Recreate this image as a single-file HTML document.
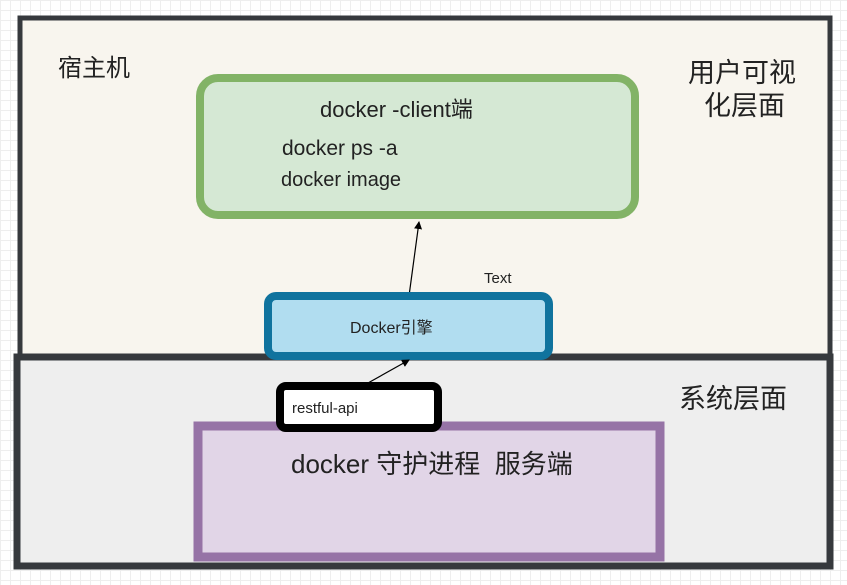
<!DOCTYPE html>
<html><head><meta charset="utf-8"><style>
body{margin:0;width:847px;height:585px;overflow:hidden;background:#fff;
background-image:linear-gradient(#eee 1px,transparent 1px),linear-gradient(90deg,#eee 1px,transparent 1px);background-size:10px 10px;}
svg{position:absolute;left:0;top:0}
text{font-family:"Liberation Sans","Noto Sans CJK SC",sans-serif;fill:#222}
</style></head><body>
<svg width="847" height="585" viewBox="0 0 847 585">
<defs><marker id="a" markerWidth="8" markerHeight="8" refX="7" refY="4" orient="auto" markerUnits="userSpaceOnUse"><path d="M0,0 L8,4 L0,8 z" fill="#000"/></marker></defs>
<rect x="20" y="18" width="810" height="340" fill="#f8f5ee" stroke="#36393d" stroke-width="5"/>
<rect x="17" y="357" width="813" height="209" fill="#eeeeee" stroke="#36393d" stroke-width="7"/>
<text x="58" y="76" font-size="24">宿主机</text>
<text x="688" y="82" font-size="27">用户可视</text>
<text x="704" y="115" font-size="27">化层面</text>
<text x="679" y="408" font-size="27">系统层面</text>
<rect x="200" y="78" width="435" height="137" rx="18" fill="#d5e8d4" stroke="#82b366" stroke-width="8"/>
<text x="320" y="117" font-size="22">docker -client端</text>
<text x="282" y="155" font-size="21">docker ps -a</text>
<text x="281" y="186" font-size="20">docker image</text>
<line x1="409" y1="296" x2="419" y2="222" stroke="#000" stroke-width="1.2" marker-end="url(#a)"/>
<text x="484" y="283" font-size="15">Text</text>
<rect x="268" y="296" width="281" height="60" rx="8" fill="#b1ddf0" stroke="#10739e" stroke-width="8"/>
<text x="350" y="333" font-size="16">Docker引擎</text>
<rect x="198" y="426" width="462" height="131" fill="#e1d5e7" stroke="#9673a6" stroke-width="9"/>
<text x="291" y="473" font-size="26" xml:space="preserve">docker 守护进程  服务端</text>
<line x1="368" y1="383" x2="409" y2="360" stroke="#000" stroke-width="1.2" marker-end="url(#a)"/>
<rect x="280" y="386" width="158" height="42" rx="6" fill="#fff" stroke="#000" stroke-width="8"/>
<text x="292" y="413" font-size="15">restful-api</text>
</svg>
</body></html>
